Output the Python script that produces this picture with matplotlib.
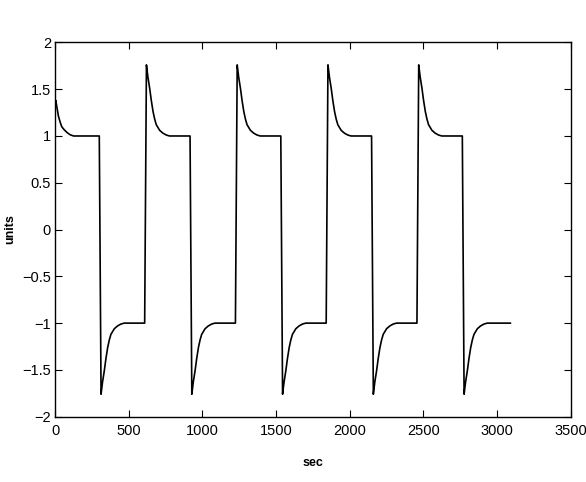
import numpy as np
import matplotlib
matplotlib.use('Agg')
import matplotlib.pyplot as plt

plt.rcParams['font.family'] = ['Liberation Sans', 'DejaVu Sans']

# switching instants (sec) and the level reached after each switch
switch_times = [300, 608, 916, 1224, 1532, 1840, 2148, 2456, 2764]
switch_levels = [-1, 1, -1, 1, -1, 1, -1, 1, -1]
end_time = 3090
rise_time = 12  # time for the near-vertical edge

# start-up transient
init_t = [0, 5, 12, 23, 34, 45, 60, 79, 100, 125]
init_v = [1.33, 1.38, 1.31, 1.21, 1.15, 1.10, 1.07, 1.04, 1.015, 1.0]

# overshoot after a step to +1 (mirror for a step to -1)
decay_dt = [0, 10, 22, 33, 45, 56, 67, 90, 112, 135, 157]
decay_v = [1.76, 1.63, 1.51, 1.38, 1.26, 1.18, 1.12, 1.06, 1.03, 1.01, 1.0]

# build the trace
t = list(init_t)
y = list(init_v)
prev = 1
for i, ts in enumerate(switch_times):
    lvl = switch_levels[i]
    t.append(ts)
    y.append(prev)
    for dt, v in zip(decay_dt, decay_v):
        t.append(ts + rise_time + dt)
        y.append(v * lvl)
    prev = lvl
t.append(end_time)
y.append(prev)

fig = plt.figure(figsize=(5.86, 4.82), dpi=100)
ax = fig.add_axes([0.094, 0.1355, 0.880, 0.7765])
ax.plot(t, y, color='black', lw=1.2)

ax.set_xlim(0, 3500)
ax.set_ylim(-2, 2)
ax.set_xticks(np.arange(0, 3501, 500))
ax.set_yticks([-2, -1.5, -1, -0.5, 0, 0.5, 1, 1.5, 2])
ax.set_yticklabels(['\u22122', '\u22121.5', '\u22121', '\u22120.5', '0', '0.5', '1', '1.5', '2'])
ax.tick_params(direction='in', top=True, right=True, length=5, width=0.8,
               labelsize=10.5, pad=3)
ax.tick_params(axis='x', pad=5)
for s in ax.spines.values():
    s.set_linewidth(1.0)

ax.set_xlabel('sec', fontsize=9, fontweight='bold', labelpad=14)
ax.set_ylabel('units', fontsize=9, fontweight='bold', labelpad=4)

fig.savefig('out.png', dpi=100)
